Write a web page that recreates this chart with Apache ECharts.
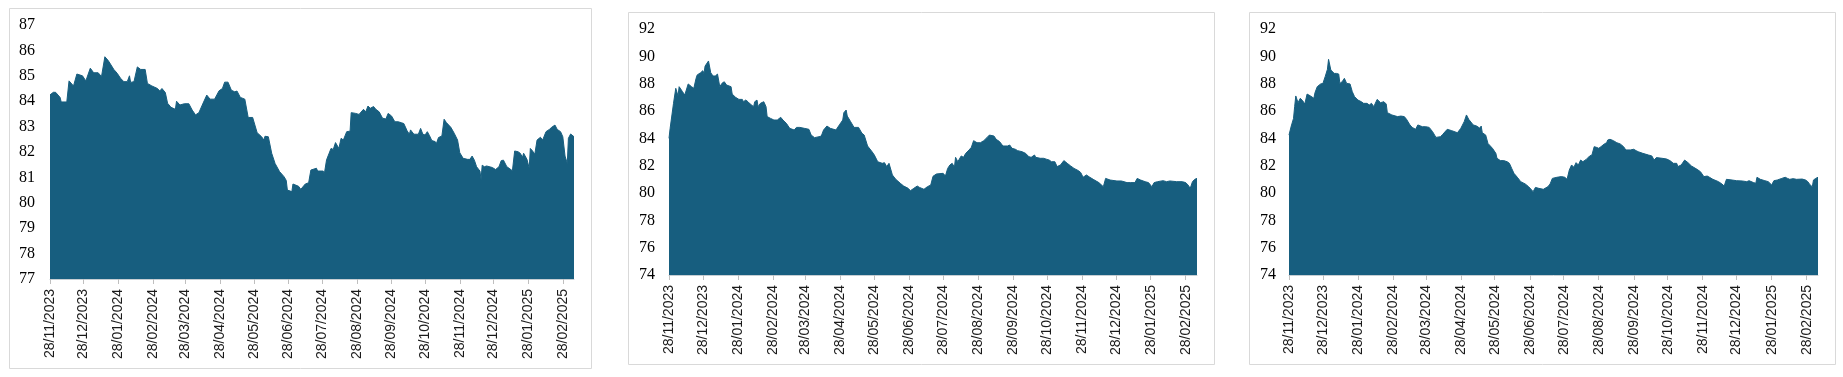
<!DOCTYPE html>
<html>
<head>
<meta charset="utf-8">
<script src="https://cdn.jsdelivr.net/npm/echarts@6/dist/echarts.min.js"></script>
<style>
  html, body { margin: 0; padding: 0; background: #ffffff; }
  #chart { width: 1843px; height: 377px; }
</style>
</head>
<body>
<div id="chart"></div>
<script>
// ---- DATA ----
// x values are day offsets from the first date (28/11/2023)
const startDate = '28/11/2023';
const endDay = 468; // 10/03/2025

const tickLabels = ['28/11/2023','28/12/2023','28/01/2024','28/02/2024','28/03/2024','28/04/2024',
  '28/05/2024','28/06/2024','28/07/2024','28/08/2024','28/09/2024','28/10/2024','28/11/2024',
  '28/12/2024','28/01/2025','28/02/2025'];

const p1Days = [0,3,5,9,10,15,17,21,24,29,32,36,39,43,46,49,52,57,60,63,66,69,71,72,75,78,81,85,87,91,96,98,100,103,105,108,112,113,116,120,124,127,130,133,136,140,143,147,151,154,156,159,162,165,167,170,174,177,181,185,189,191,192,195,198,201,205,209,211,212,216,217,222,224,228,231,233,238,239,244,245,247,251,253,255,258,260,262,265,268,269,273,276,277,280,282,284,286,289,291,294,297,300,302,305,308,311,314,316,319,321,322,325,329,331,333,335,337,339,341,344,345,347,350,352,354,358,361,364,366,369,373,375,377,379,381,384,385,386,388,390,395,398,401,403,405,408,410,413,415,418,420,422,423,426,428,429,431,433,435,438,440,443,446,448,451,453,456,458,460,462,463,465,468];
const p1Vals = [84.25,84.35,84.35,84.15,83.97,83.97,84.8,84.6,85.07,85.0,84.8,85.3,85.12,85.12,84.97,85.75,85.6,85.25,85.1,84.9,84.77,84.77,85.0,84.74,84.77,85.35,85.25,85.25,84.7,84.6,84.5,84.4,84.5,84.34,83.92,83.76,83.68,84.0,83.85,83.9,83.9,83.65,83.46,83.55,83.85,84.24,84.08,84.08,84.41,84.5,84.75,84.75,84.43,84.37,84.4,84.15,84.08,83.36,83.36,82.76,82.6,82.47,82.62,82.6,81.95,81.55,81.23,81.03,80.88,80.5,80.44,80.74,80.65,80.53,80.74,80.79,81.29,81.36,81.25,81.25,81.14,81.69,82.14,82.1,82.37,82.14,82.54,82.47,82.8,82.82,83.55,83.52,83.48,83.55,83.68,83.58,83.81,83.72,83.79,83.68,83.58,83.33,83.3,83.52,83.42,83.19,83.19,83.15,83.12,82.83,82.7,82.87,82.7,82.7,82.93,82.7,82.67,82.8,82.64,82.45,82.41,82.32,82.57,82.63,83.29,83.16,82.97,82.74,82.47,81.97,81.75,81.71,81.71,81.84,81.68,81.42,81.25,80.92,81.48,81.42,81.45,81.39,81.31,81.42,81.66,81.68,81.42,81.36,81.26,82.04,82.01,81.95,81.79,81.95,81.71,81.36,82.14,82.04,81.91,82.47,82.58,82.47,82.8,82.89,82.97,83.06,82.89,82.8,82.6,81.84,81.55,82.54,82.71,82.6];

const p2Days = [0,1,2,4,6,7,8,9,12,14,17,20,22,24,25,28,30,31,32,35,37,39,41,43,45,47,49,51,55,56,59,62,65,66,68,70,72,75,76,78,79,81,84,86,87,90,93,96,99,101,104,107,111,113,116,120,124,126,129,133,135,137,140,143,148,151,154,155,157,158,161,164,168,171,173,174,176,180,182,185,189,191,193,195,198,201,205,208,212,214,217,220,222,226,229,232,234,237,243,245,247,249,251,253,254,256,259,261,263,266,268,270,273,276,279,282,284,288,290,293,296,300,302,304,307,309,313,316,319,321,324,325,329,332,335,337,339,342,344,347,348,350,353,356,359,363,365,367,370,373,376,381,385,387,391,397,401,406,409,413,415,418,422,425,428,430,433,438,441,444,450,455,458,460,462,464,466,468];
const p2Vals = [84.0,84.73,84.85,86.56,87.66,87.78,87.1,87.78,87.41,87.17,87.98,87.78,87.66,88.39,88.64,88.8,88.95,88.75,89.29,89.66,88.8,88.56,88.56,88.7,87.78,88.03,88.14,87.9,87.78,87.24,87.0,86.85,86.85,86.68,86.8,86.68,86.51,86.32,86.68,86.8,86.32,86.56,86.68,86.32,85.59,85.46,85.34,85.34,85.54,85.34,85.1,84.73,84.61,84.8,84.8,84.73,84.66,84.24,84.05,84.12,84.17,84.61,84.9,84.73,84.61,84.98,85.34,85.88,86.07,85.63,85.22,84.8,84.8,84.37,84.24,84.12,83.44,83.02,82.78,82.29,82.17,82.22,81.93,82.17,81.32,81.0,80.71,80.51,80.34,80.17,80.34,80.51,80.41,80.27,80.46,80.58,81.22,81.39,81.44,81.24,81.8,82.05,82.17,81.88,82.61,82.29,82.71,82.61,82.9,83.15,83.34,83.83,83.68,83.68,83.83,84.07,84.24,84.17,83.93,83.76,83.44,83.44,83.51,83.27,83.2,83.1,83.02,82.9,82.66,82.61,82.78,82.61,82.54,82.54,82.46,82.41,82.29,82.29,81.93,82.05,82.17,82.37,82.17,81.98,81.8,81.63,81.49,81.15,81.32,81.15,81.0,80.76,80.46,81.07,80.95,80.88,80.88,80.76,80.76,80.76,81.07,80.95,80.83,80.76,80.46,80.76,80.83,80.9,80.83,80.88,80.83,80.83,80.76,80.59,80.34,80.83,81.0,81.07];

const p3Days = [0,2,4,5,6,8,10,12,14,16,19,22,23,25,28,30,31,32,34,35,37,40,42,44,45,47,49,51,54,56,58,61,64,66,69,71,73,75,76,78,81,84,86,87,91,96,99,100,102,104,107,109,112,114,118,121,124,127,130,134,136,140,144,149,152,155,157,159,163,166,169,170,171,174,176,180,183,184,187,190,193,195,197,199,202,205,209,212,216,218,221,225,229,231,233,237,241,244,246,248,250,252,254,256,258,260,263,266,268,270,272,274,276,279,281,282,284,287,290,293,296,298,302,305,307,309,313,318,321,323,325,330,334,337,340,343,344,347,350,353,356,361,364,367,370,372,375,380,383,385,387,392,396,401,405,407,408,411,413,414,417,421,424,427,429,432,436,439,441,443,446,449,454,457,459,461,463,464,466,468];
const p3Vals = [84.24,84.9,85.46,86.32,87.1,86.61,86.93,86.76,86.51,87.24,87.1,86.93,87.34,87.78,87.98,88.02,87.9,88.51,89.05,89.78,89.0,88.75,88.75,88.7,88.02,88.14,88.39,88.02,87.98,87.41,87.05,86.8,86.68,86.56,86.56,86.44,86.56,86.32,86.2,86.85,86.61,86.68,86.51,85.88,85.71,85.59,85.63,85.71,85.59,85.39,84.98,84.8,84.66,84.98,84.85,84.85,84.8,84.49,84.07,84.12,84.29,84.66,84.56,84.41,84.73,85.22,85.71,85.39,84.98,84.9,84.73,84.9,84.41,84.24,83.63,83.27,82.9,82.54,82.37,82.37,82.29,82.17,81.8,81.44,81.15,80.83,80.66,80.46,80.1,80.41,80.34,80.27,80.46,80.66,81.07,81.15,81.2,81.15,81.0,81.68,82.05,81.88,82.22,82.05,82.41,82.29,82.46,82.71,82.78,83.39,83.34,83.27,83.39,83.59,83.68,83.88,83.93,83.83,83.68,83.59,83.39,83.15,83.15,83.2,83.1,83.02,82.9,82.78,82.71,82.41,82.59,82.54,82.49,82.37,82.17,82.17,81.93,82.05,82.41,82.22,81.98,81.73,81.56,81.2,81.24,81.15,81.0,80.83,80.66,80.51,81.0,80.95,80.9,80.88,80.83,80.9,80.76,80.76,80.71,81.15,81.0,80.9,80.83,80.59,80.9,80.95,81.07,81.15,81.07,81.0,81.05,81.0,81.02,80.95,80.83,80.59,80.46,80.95,81.07,81.15];

const p1Y = { min: 77, max: 87, interval: 1 };
const p23Y = { min: 74, max: 92, interval: 2 };

// ---- BUILD ----
function parseDMY(s) {
  const [d, m, y] = s.split('/').map(Number);
  return Date.UTC(y, m - 1, d);
}
const startTs = parseDMY(startDate);
const tickDays = tickLabels.map(s => Math.round((parseDMY(s) - startTs) / 86400000));
const labelByDay = {};
tickDays.forEach((d, i) => { labelByDay[d] = tickLabels[i]; });

const FILL = '#175e7f';
const grids = [
  { left: 50, top: 25, width: 524, height: 254 },
  { left: 669, top: 29, width: 528, height: 246 },
  { left: 1289, top: 29, width: 529, height: 246 }
];
const yCfg = [p1Y, p23Y, p23Y];
const yMargin = [15, 14, 13];
const seriesData = [[p1Days, p1Vals], [p2Days, p2Vals], [p3Days, p3Vals]];

const option = {
  animation: false,
  backgroundColor: '#ffffff',
  graphic: [
    { type: 'rect', silent: true, z: -10, shape: { x: 9.5, y: 8.5, width: 582, height: 360 }, style: { fill: 'none', stroke: '#d9d9d9', lineWidth: 1 } },
    { type: 'rect', silent: true, z: -10, shape: { x: 628.5, y: 12.5, width: 586, height: 352 }, style: { fill: 'none', stroke: '#d9d9d9', lineWidth: 1 } },
    { type: 'rect', silent: true, z: -10, shape: { x: 1249.5, y: 12.5, width: 586, height: 352 }, style: { fill: 'none', stroke: '#d9d9d9', lineWidth: 1 } }
  ],
  grid: grids.map(g => Object.assign({ containLabel: false }, g)),
  xAxis: grids.map((g, i) => ({
    type: 'value',
    gridIndex: i,
    min: 0,
    max: endDay,
    z: 5,
    axisLine: { show: true, lineStyle: { color: '#c6ced3', width: 1 } },
    axisTick: { show: true, customValues: tickDays, length: 5, lineStyle: { color: '#bfbfbf' } },
    axisLabel: {
      customValues: tickDays,
      rotate: 90,
      margin: 10,
      hideOverlap: false,
      showMinLabel: true,
      showMaxLabel: true,
      fontFamily: 'Liberation Sans',
      fontSize: 14,
      color: '#1a1a1a',
      formatter: function (v) { return labelByDay[v] || ''; }
    },
    splitLine: { show: false }
  })),
  yAxis: grids.map((g, i) => ({
    type: 'value',
    gridIndex: i,
    min: yCfg[i].min,
    max: yCfg[i].max,
    interval: yCfg[i].interval,
    axisLine: { show: false },
    axisTick: { show: false },
    splitLine: { show: false },
    axisLabel: { margin: yMargin[i], fontFamily: 'Liberation Serif', fontSize: 16, color: '#000000' }
  })),
  series: seriesData.map((sd, i) => ({
    type: 'line',
    xAxisIndex: i,
    yAxisIndex: i,
    showSymbol: false,
    symbol: 'none',
    lineStyle: { width: 1, color: FILL },
    areaStyle: { color: FILL, opacity: 1, origin: 'start' },
    data: sd[0].map((d, k) => [d, sd[1][k]])
  }))
};

const chart = echarts.init(document.getElementById('chart'), null, { renderer: 'canvas' });
chart.setOption(option);
</script>
</body>
</html>
